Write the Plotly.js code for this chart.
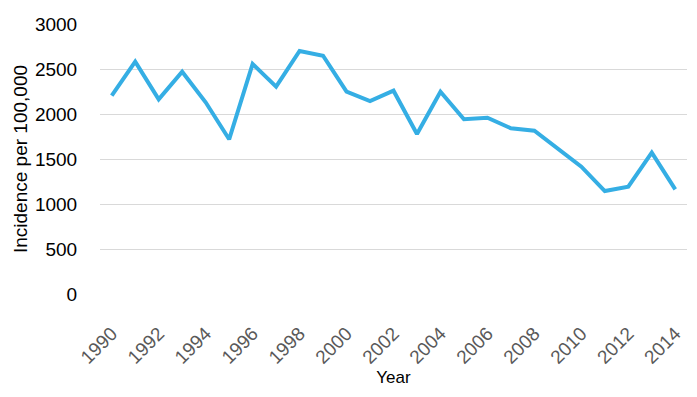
<!DOCTYPE html>
<html>
<head>
<meta charset="utf-8">
<script src="https://cdn.plot.ly/plotly-3.0.1.min.js"></script>
<style>html,body{margin:0;padding:0;background:#fff}#chart{width:697px;height:397px}</style>
</head>
<body>
<div id="chart"></div>
<script>
const years = [1990,1991,1992,1993,1994,1995,1996,1997,1998,1999,2000,2001,2002,2003,2004,2005,2006,2007,2008,2009,2010,2011,2012,2013,2014];
const incidence = [2203,2581,2163,2470,2130,1719,2556,2304,2700,2648,2248,2144,2259,1778,2248,1941,1959,1841,1815,1619,1415,1144,1193,1570,1163];
const yTicks = [0,500,1000,1500,2000,2500,3000];
const xTitle = "Year";
const yTitle = "Incidence per 100,000";

const trace = {
  x: years, y: incidence, type: 'scatter', mode: 'lines',
  line: {color: '#35AEE4', width: 4}, hoverinfo: 'x+y'
};
const layout = {
  width: 697, height: 397,
  margin: {l: 100, r: 10, t: 24, b: 103},
  paper_bgcolor: '#fff', plot_bgcolor: '#fff',
  showlegend: false,
  font: {family: 'Liberation Sans, Arial, sans-serif'},
  xaxis: {
    range: [1989.5, 2014.5], tick0: 1990, dtick: 2, tickangle: -45,
    showgrid: false, zeroline: false, showline: false,
    ticks: 'outside', ticklen: 20, tickcolor: 'rgba(0,0,0,0)',
    tickfont: {size: 19, color: '#595959'},
    title: {text: xTitle, font: {size: 17, color: '#000'}, standoff: 4}
  },
  yaxis: {
    range: [0, 3000], tickvals: yTicks, ticktext: yTicks.map(String),
    showgrid: true, gridcolor: '#d9d9d9', gridwidth: 1, zeroline: false, showline: false,
    ticks: 'outside', ticklen: 18, tickcolor: 'rgba(0,0,0,0)',
    tickfont: {size: 19, color: '#000'},
    title: {text: yTitle, font: {size: 19, color: '#000'}, standoff: 2}
  }
};
Plotly.newPlot('chart', [trace], layout, {displayModeBar: false, staticPlot: true});
</script>
</body>
</html>
